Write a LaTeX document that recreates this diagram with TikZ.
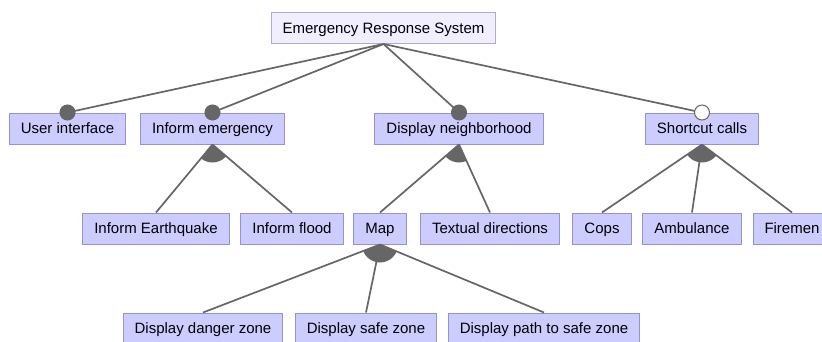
\documentclass[tikz,border=0pt]{standalone}
\usepackage{fontspec}
\setmainfont{Liberation Sans}
\definecolor{featfill}{RGB}{204,204,255}
\definecolor{featline}{RGB}{150,146,204}
\definecolor{rootfill}{RGB}{240,238,255}
\definecolor{rootline}{RGB}{176,168,216}
\definecolor{linkgray}{RGB}{102,102,102}
\tikzset{
	feat/.style={draw=featline,fill=featfill,line width=1pt,minimum height=31pt,inner xsep=11.5pt,text height=10.8pt,text depth=0pt,font=\fontsize{15}{18}\selectfont},
	link/.style={draw=linkgray,line width=1.7pt},
	mand/.style={fill=linkgray,draw=linkgray,line width=1pt},
	opt/.style={fill=white,draw=linkgray,line width=1pt}
}
\begin{document}
\begin{tikzpicture}[x=1pt,y=-1pt]
		\useasboundingbox (0,0) rectangle (822,341);
		\node[feat,fill=rootfill,draw=rootline] (root) at (383.5,28) {Emergency Response System};
		% level 1
		\node[feat] (ui) at (67.5,128.5) {User interface};
		\node[feat] (inform) at (212.5,128.5) {Inform emergency};
		\node[feat] (neigh) at (459,128.5) {Display neighborhood};
		\node[feat] (short) at (702,128.5) {Shortcut calls};
		% level 2
		\node[feat] (quake) at (156,228.5) {Inform Earthquake};
		\node[feat] (flood) at (292,228.5) {Inform flood};
		\node[feat] (map) at (380,228.5) {Map};
		\node[feat] (text) at (490,228.5) {Textual directions};
		\node[feat] (cops) at (602,228.5) {Cops};
		\node[feat] (amb) at (692,228.5) {Ambulance};
		\node[feat] (fire) at (792,228.5) {Firemen};
		% level 3
		\node[feat] (danger) at (203,328.5) {Display danger zone};
		\node[feat] (safe) at (366,328.5) {Display safe zone};
		\node[feat] (path) at (544,328.5) {Display path to safe zone};
		% or groups
		\foreach \p/\a/\b in {inform/quake/flood,neigh/map/text,short/cops/fire,map/danger/path}{
			\begin{scope}
				\clip (\p.south) circle (18pt);
				\fill[linkgray] (\p.south)--(\a.north)--(\b.north)--cycle;
			\end{scope}
		}
		\foreach \p/\c in {inform/quake,inform/flood,neigh/map,neigh/text,short/cops,short/amb,short/fire,map/danger,map/safe,map/path}
		\draw[link] (\p.south)--(\c.north);
		% root edges
		\foreach \c in {ui,inform,neigh,short}
		\draw[link] (root.south)--(\c.north);
		\foreach \c in {ui,inform,neigh}
		\draw[mand] (\c.north) circle (7.5pt);
		\draw[opt] (short.north) circle (7.5pt);
\end{tikzpicture}
\end{document}
